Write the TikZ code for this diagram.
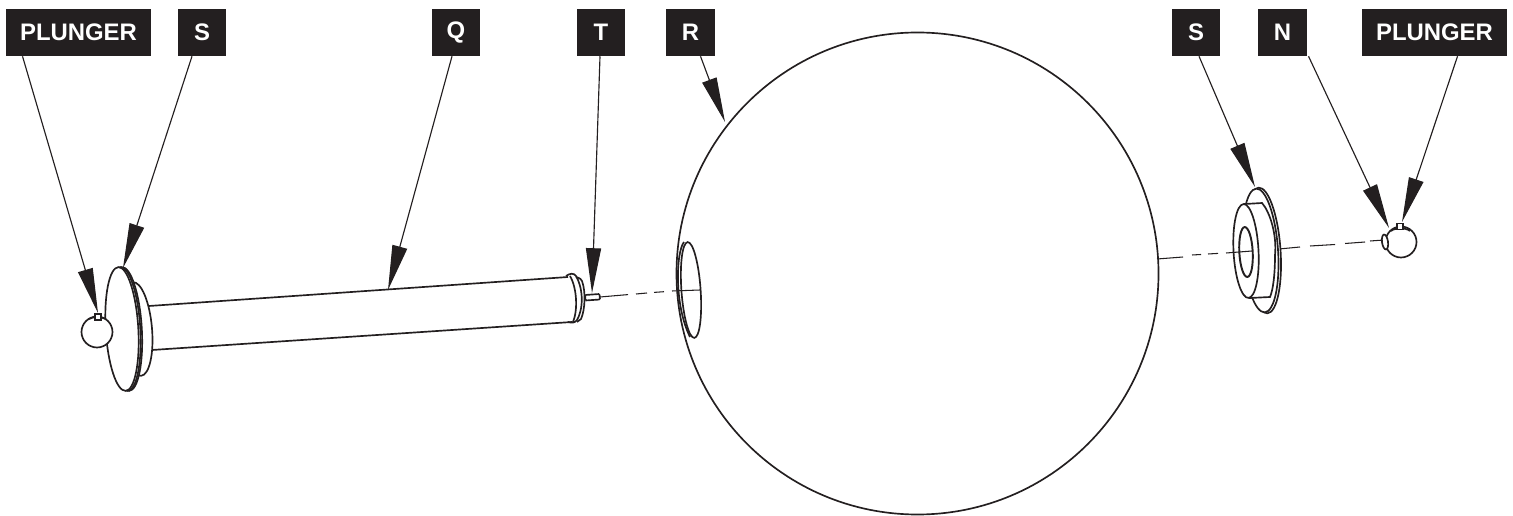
\documentclass[tikz,border=0pt]{standalone}
\usepackage{fontspec}
\setmainfont{Liberation Sans}
\usetikzlibrary{arrows.meta}
\definecolor{ink}{HTML}{231F20}
\tikzset{
  tag/.style={fill=ink,text=white,inner sep=0pt,minimum height=47*0.5669pt,font=\fontsize{13.6pt}{15pt}\selectfont\bfseries},
  wide/.style={tag,minimum width=145*0.5669pt},
  narrow/.style={tag,minimum width=49*0.5669pt},
  part/.style={draw=ink,line width=0.95pt,fill=white},
  edge/.style={draw=ink,line width=0.95pt},
  axis/.style={draw=ink,line width=0.6pt},
  lead/.style={draw=ink,line width=0.65pt,-{Triangle[length=25.5pt,width=8.6pt,color=ink]},shorten >=0pt}
}
\begin{document}
\begin{tikzpicture}[x=0.02cm,y=-0.02cm]
\useasboundingbox (0,0) rectangle (1513,516);
% sphere
\draw[edge] (917.5,273.5) circle [radius=241];
% hole in sphere
\draw[edge,rotate around={4:(691,290)}] (691,290) ellipse [x radius=9.6,y radius=48];
\draw[edge] (684,242) .. controls (676,252) and (674,305) .. (690,337);
% centre lines
\draw[axis] (600,297) -- (628,294.6);
\draw[axis] (636,294) -- (647,293);
\draw[axis] (654,292.4) -- (664,291.7);
\draw[axis] (672,291) -- (700,290);
\draw[axis] (1157,259) -- (1183,257);
\draw[axis] (1192,255) -- (1201,254.5);
\draw[axis] (1208,254) -- (1218,253.4);
\draw[axis] (1279,249) -- (1300,247);
\draw[axis] (1310,246) -- (1335,244.5);
\draw[axis] (1345,243.5) -- (1365,242);
\draw[axis] (1370,241) -- (1384,240);
% tube
\draw[edge] (149,306) -- (568,277);
\draw[edge] (152,350) -- (572,322);
\draw[edge] (566,276) .. controls (570,273) and (574,273) .. (576,276) .. controls (584,290) and (583,310) .. (577,320) .. controls (575,323) and (572,323) .. (568,322);
\draw[edge] (576,277) .. controls (580,278) and (582,280) .. (582,281) .. controls (586,292) and (585,310) .. (581,319) -- (577,322);
\draw[edge] (570,276) .. controls (577,288) and (578,310) .. (573,322);
% pin
\draw[part,rounded corners=0.6pt] (585,295) -- (599.5,294) -- (600,299.5) -- (585.5,300.5) -- cycle;
% left disc assembly
\draw[part,rotate around={5:(137,329)}] (137,329) ellipse [x radius=15,y radius=47];
\draw[part,rotate around={3.4:(125.5,329)}] (125.5,329) ellipse [x radius=16.3,y radius=62];
\draw[part,rotate around={3.4:(124,329)}] (124,329) ellipse [x radius=16.3,y radius=62];
\draw[part,rotate around={3.4:(122,329)}] (122,329) ellipse [x radius=16.3,y radius=62];
\draw[part] (97,332) circle [radius=15.5];
\draw[edge] (89,319) .. controls (93,316.5) and (101,316.5) .. (106,319);
\draw[part] (95,314) rectangle (101,320);
% right flange assembly
\draw[part,rotate around={4:(1263,250.5)}] (1263,250.5) ellipse [x radius=17.5,y radius=63];
\draw[part,rotate around={4:(1260.5,250.5)}] (1260.5,250.5) ellipse [x radius=17.5,y radius=62];
\draw[part] (1245,204) -- (1262,203) .. controls (1270,212) and (1277,235) .. (1275,255) .. controls (1275,275) and (1273,290) .. (1270,297) -- (1250,298) -- cycle;
\draw[part,rotate around={3:(1246,251)}] (1246,251) ellipse [x radius=12.5,y radius=47];
\draw[part,line width=1.1pt,rotate around={3:(1246,252)}] (1246,252) ellipse [x radius=6.7,y radius=25];
\draw[axis] (1226,253) -- (1252,251);
% right ball
\draw[part] (1401,242) circle [radius=15.5];
\draw[edge] (1391,231) .. controls (1395,227.5) and (1406,227.5) .. (1410,231);
\draw[part] (1397,223.5) rectangle (1403,229.5);
\draw[part,rotate around={8:(1385,242)}] (1385,242) ellipse [x radius=3,y radius=7.5];
% labels
\node[wide]   (pa) at (78.5,32.5)  {PLUNGER};
\node[narrow] (sa) at (202,32.5)   {S};
\node[narrow] (q)  at (456,32.5)   {Q};
\node[narrow] (t)  at (601,32.5)   {T};
\node[narrow] (r)  at (690.5,32.5) {R};
\node[narrow] (sb) at (1196,32.5)  {S};
\node[narrow] (n)  at (1282.5,32.5){N};
\node[wide]   (pb) at (1434.5,32.5){PLUNGER};
% arrow tips
\coordinate (tpa) at (98,313);
\coordinate (tsa) at (123,268);
\coordinate (tq)  at (388,290);
\coordinate (tt)  at (592,293);
\coordinate (tr)  at (725,122);
\coordinate (tsb) at (1255,187);
\coordinate (tn)  at (1389,228);
\coordinate (tpb) at (1402,222);
% leaders
\draw[lead] ([shift={(-56,0)}]pa.south) -- (tpa);
\draw[lead] ([shift={(-10,0)}]sa.south) -- (tsa);
\draw[lead] ([shift={(-4,0)}]q.south) -- (tq);
\draw[lead] ([shift={(-1,0)}]t.south) -- (tt);
\draw[lead] ([shift={(10,0)}]r.south) -- (tr);
\draw[lead] ([shift={(3,0)}]sb.south) -- (tsb);
\draw[lead] ([shift={(26,0)}]n.south) -- (tn);
\draw[lead] ([shift={(23,0)}]pb.south) -- (tpb);
\end{tikzpicture}
\end{document}
